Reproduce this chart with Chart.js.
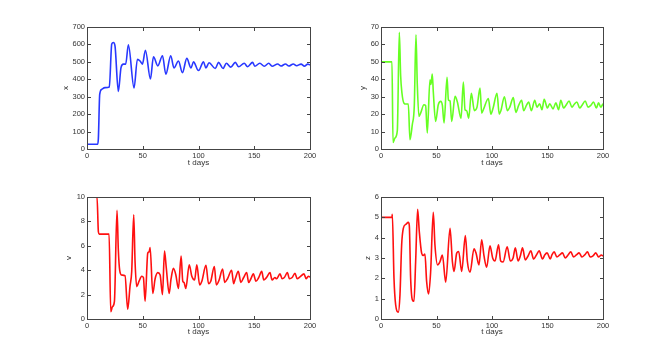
<!DOCTYPE html>
<html><head><meta charset="utf-8">
<script src="https://cdn.jsdelivr.net/npm/chart.js@4.4.1/dist/chart.umd.min.js"></script>
<style>
html,body{margin:0;padding:0;background:#fff;width:667px;height:359px;overflow:hidden}
canvas{position:absolute;left:0;top:0}
</style></head>
<body>
<canvas id="c1" width="667" height="359"></canvas>
<canvas id="c2" width="667" height="359"></canvas>
<canvas id="c3" width="667" height="359"></canvas>
<canvas id="c4" width="667" height="359"></canvas>
<script>
// ---- data ----
const xAxisTicks = [0, 50, 100, 150, 200];
const xAxisTitle = 't days';

const tX = [0, 9.6, 10.2, 11.4, 13.2, 16.2, 20, 22.2, 23.7, 25.1, 28.1, 30.5, 32.6, 34.7, 37.1, 42.2, 45.2, 47.6, 49.7, 52.4, 56.9, 59.6, 63.5, 67.7, 70.7, 75.1, 78, 82, 85.6, 89.5, 93.3, 95.5, 100, 104.5, 106.6, 109.5, 115, 118, 122, 125, 129, 133, 136, 141, 144, 148.5, 150.5, 155, 159, 163, 166, 171, 174, 178, 181, 185, 188, 192, 195, 198, 200];
const xVals = [27, 27, 60, 313, 342, 352, 356, 602, 611, 592, 330, 467, 487, 487, 598, 350, 515, 505, 487, 567, 402, 529, 477, 535, 429, 535, 465, 505, 438, 520, 465, 500, 450, 500, 465, 495, 462, 497, 462, 492, 470, 497, 472, 492, 472, 497, 475, 492, 475, 492, 475, 488, 476, 488, 476, 488, 478, 487, 475, 487, 482];
const xYTicks = [0, 100, 200, 300, 400, 500, 600, 700];

const tY = [0, 9.9, 10.8, 12.6, 14.7, 16.5, 17.7, 18.9, 20.7, 22.5, 24.6, 26.1, 28.2, 30, 31.5, 32.7, 34.2, 35.7, 38.7, 40.2, 41.7, 44.1, 45, 46.2, 47.1, 49.2, 51.6, 53.8, 55.3, 56.8, 59.5, 60.7, 62.2, 63.7, 66.7, 68.8, 72.1, 74.2, 75.7, 77.2, 79, 81.4, 84.1, 86.5, 89.2, 90.7, 92.5, 96.7, 99, 101, 104.5, 106.5, 108, 111.2, 113.8, 116, 119.2, 121.5, 124, 126.7, 128.5, 131, 133, 135.5, 138.5, 140.5, 143, 145, 147, 150, 152, 155, 157.5, 160, 162, 164.5, 166.5, 169.5, 172, 174, 176.5, 179, 181, 184, 186.5, 189, 191.5, 194, 196, 198, 200];
const yVals = [50, 50, 3.8, 6.3, 10.5, 67, 42, 32, 26.3, 25.8, 25.8, 5.3, 14, 25, 65.5, 37, 18.7, 20.6, 25.4, 25, 9.2, 39.7, 37, 43, 33, 15.8, 25.4, 27.3, 25, 14.9, 41.2, 28.2, 27.5, 15.8, 30.2, 27, 17.7, 38.4, 22.5, 22, 17.7, 32, 22, 24, 35, 20.6, 23, 29, 20, 23.5, 32, 20, 22, 30, 22, 24, 29.5, 21, 25, 28, 22, 25, 27, 22, 28, 24, 26, 22.5, 28.5, 23.5, 26, 23, 26.5, 22.5, 28, 23.5, 25, 27.5, 24, 25.5, 27, 23.5, 25, 27.5, 24, 25, 27, 23.5, 26.5, 24, 26];
const yYTicks = [0, 10, 20, 30, 40, 50, 60, 70];

const tV = [0, 9, 10.2, 11, 19.8, 21.3, 22.8, 24.6, 26.9, 28.1, 29.3, 31.1, 34.1, 36.5, 38.6, 40.1, 41.9, 43.1, 44.6, 46.7, 49.1, 50.6, 52.1, 54.5, 55.7, 56.6, 59, 61.1, 63.5, 65.6, 67.7, 69.5, 71, 73.7, 75.4, 77.5, 79.6, 82, 84.4, 85.9, 87, 88.6, 91.7, 94, 96.5, 98.5, 101, 103, 106.7, 109, 111, 114.2, 116, 118.5, 121.6, 123.5, 126, 129.7, 131.5, 133, 135.7, 138, 140.5, 143.2, 145, 147, 149.2, 151.5, 154, 156.7, 158.5, 161, 164.1, 166, 168.5, 170, 173.1, 175, 177, 179.7, 181.5, 184, 186.5, 188.5, 191, 194.6, 196.5, 198.5, 200];
const vVals = [10, 10, 7.15, 6.96, 6.96, 0.6, 1.0, 1.45, 8.9, 5.65, 4.0, 3.6, 3.55, 0.8, 2.7, 3.9, 8.55, 4.7, 2.65, 3.1, 3.5, 3.4, 1.45, 5.4, 5.5, 5.85, 2.1, 3.3, 3.8, 3.6, 2.0, 5.57, 4.3, 2.1, 3.3, 4.15, 3.65, 2.5, 5.15, 3.1, 3.0, 2.5, 4.45, 3.5, 3.2, 4.45, 2.8, 3.1, 4.4, 2.9, 3.1, 4.3, 2.8, 3.2, 4.1, 3.0, 3.3, 4.0, 2.9, 3.3, 3.9, 3.0, 3.4, 3.8, 3.0, 3.3, 3.7, 3.1, 3.4, 3.9, 3.2, 3.4, 3.8, 3.2, 3.4, 3.3, 3.7, 3.3, 3.4, 3.8, 3.3, 3.4, 3.75, 3.3, 3.45, 3.7, 3.3, 3.5, 3.45];
const vYTicks = [0, 2, 4, 6, 8, 10];

const tZ = [0, 9.9, 10.2, 11.7, 13.2, 15.6, 17.1, 18.6, 20.1, 22.5, 24.6, 25.5, 26.7, 28.2, 29.7, 31.2, 33, 34.5, 36.6, 38.1, 39.6, 41.1, 42.9, 44.7, 47.1, 48.6, 51, 53.2, 55.3, 58.3, 62.2, 64.3, 65.8, 68.2, 70, 72.7, 76, 77.8, 80.2, 83.8, 85.6, 88.3, 90.7, 92.8, 95.2, 98.2, 100.6, 102.7, 105.9, 107.8, 110, 113.7, 116.5, 119, 121, 123.5, 125.5, 127.5, 130, 132.5, 135, 137.5, 140, 142.5, 145.5, 147.5, 149.7, 152.5, 154, 156, 158.5, 161, 163.5, 166, 168.5, 171, 173.5, 176, 178.5, 181, 183.5, 186, 188.5, 191, 193.5, 196, 198.5, 200];
const zVals = [5, 5, 5.15, 2.0, 0.7, 0.34, 1.2, 3.64, 4.46, 4.66, 4.75, 4.6, 2.0, 0.95, 0.87, 2.8, 5.4, 4.3, 3.24, 3.12, 3.19, 1.85, 1.23, 2.3, 5.25, 3.64, 2.66, 2.83, 3.15, 1.81, 4.46, 2.83, 2.34, 3.24, 3.32, 2.34, 4.1, 2.83, 2.3, 3.45, 3.24, 2.66, 3.9, 3.1, 2.55, 3.6, 3.0, 2.85, 3.65, 2.85, 2.8, 3.55, 2.85, 3.0, 3.5, 2.85, 3.1, 3.5, 2.9, 3.1, 3.35, 2.95, 3.15, 3.35, 2.95, 3.15, 3.25, 2.95, 3.15, 3.3, 3.05, 3.15, 3.25, 3.0, 3.15, 3.3, 3.05, 3.15, 3.25, 3.05, 3.15, 3.3, 3.05, 3.1, 3.25, 3.05, 3.15, 3.1];
const zYTicks = [0, 1, 2, 3, 4, 5, 6];

// ---- layout / styling ----
const W = 667, H = 359;
const FONT = "'Liberation Sans', Arial, sans-serif";
const panels = [
  {id:'c1', t:tX, v:xVals, yt:xYTicks, title:'x', color:'#2838ff', L:87, T:27, R:310, B:149, titleX:66, xTitleY:163},
  {id:'c2', t:tY, v:yVals, yt:yYTicks, title:'y', color:'#66ff22', L:381, T:27, R:603, B:149, titleX:363, xTitleY:163},
  {id:'c3', t:tV, v:vVals, yt:vYTicks, title:'v', color:'#ff1010', L:87, T:197, R:310, B:319, titleX:69, xTitleY:332},
  {id:'c4', t:tZ, v:zVals, yt:zYTicks, title:'z', color:'#ff1010', L:381, T:197, R:603, B:319, titleX:368, xTitleY:332}
];

const boxPlugin = {
  id: 'matlabBox',
  afterDraw(chart) {
    const {ctx, chartArea: a, scales} = chart;
    const l = Math.round(a.left), r = Math.round(a.right);
    const t = Math.round(a.top), b = Math.round(a.bottom);
    ctx.save();
    ctx.fillStyle = '#444444';
    ctx.fillRect(l, t, r - l + 1, 1);      // top
    ctx.fillRect(l, b, r - l + 1, 1);      // bottom
    ctx.fillRect(l, t, 1, b - t + 1);      // left
    ctx.fillRect(r, t, 1, b - t + 1);      // right
    const tl = 3;
    scales.x.ticks.forEach(tk => {
      const px = Math.round(scales.x.getPixelForValue(tk.value));
      ctx.fillRect(px, b - tl, 1, tl);
      ctx.fillRect(px, t + 1, 1, tl);
    });
    scales.y.ticks.forEach(tk => {
      const py = Math.round(scales.y.getPixelForValue(tk.value));
      ctx.fillRect(l + 1, py, tl, 1);
      ctx.fillRect(r - tl, py, tl, 1);
    });
    ctx.restore();
  }
};

panels.forEach(p => {
  const half = 8 * 1.2 / 2;
  const padLeft = p.titleX - half;
  const xBottom = p.xTitleY + half;
  new Chart(document.getElementById(p.id), {
    type: 'line',
    data: {
      datasets: [{
        data: p.t.map((tt, i) => ({x: tt, y: p.v[i]})),
        borderColor: p.color,
        borderWidth: 1.6,
        pointRadius: 0,
        fill: false,
        tension: 0.4,
        cubicInterpolationMode: 'monotone'
      }]
    },
    options: {
      responsive: false,
      animation: false,
      events: [],
      layout: {padding: {left: padLeft, top: p.T, right: W - p.R, bottom: H - xBottom}},
      plugins: {legend: {display: false}, tooltip: {enabled: false}},
      scales: {
        x: {
          type: 'linear', min: 0, max: 200,
          afterBuildTicks: s => { s.ticks = xAxisTicks.map(v => ({value: v})); },
          afterFit: s => { s.height = xBottom - p.B; },
          grid: {display: false, drawTicks: false}, border: {display: false},
          ticks: {padding: 2, color: '#333', font: {family: FONT, size: 7.5}, maxRotation: 0},
          title: {display: true, text: xAxisTitle, color: '#333', padding: 0, font: {family: FONT, size: 8}}
        },
        y: {
          type: 'linear', min: p.yt[0], max: p.yt[p.yt.length - 1],
          afterBuildTicks: s => { s.ticks = p.yt.map(v => ({value: v})); },
          afterFit: s => { s.width = p.L - padLeft; },
          grid: {display: false, drawTicks: false}, border: {display: false},
          ticks: {padding: 2, color: '#333', font: {family: FONT, size: 7.5}},
          title: {display: true, text: p.title, color: '#333', padding: 0, font: {family: FONT, size: 8}}
        }
      }
    },
    plugins: [boxPlugin]
  });
});
</script>
</body></html>
